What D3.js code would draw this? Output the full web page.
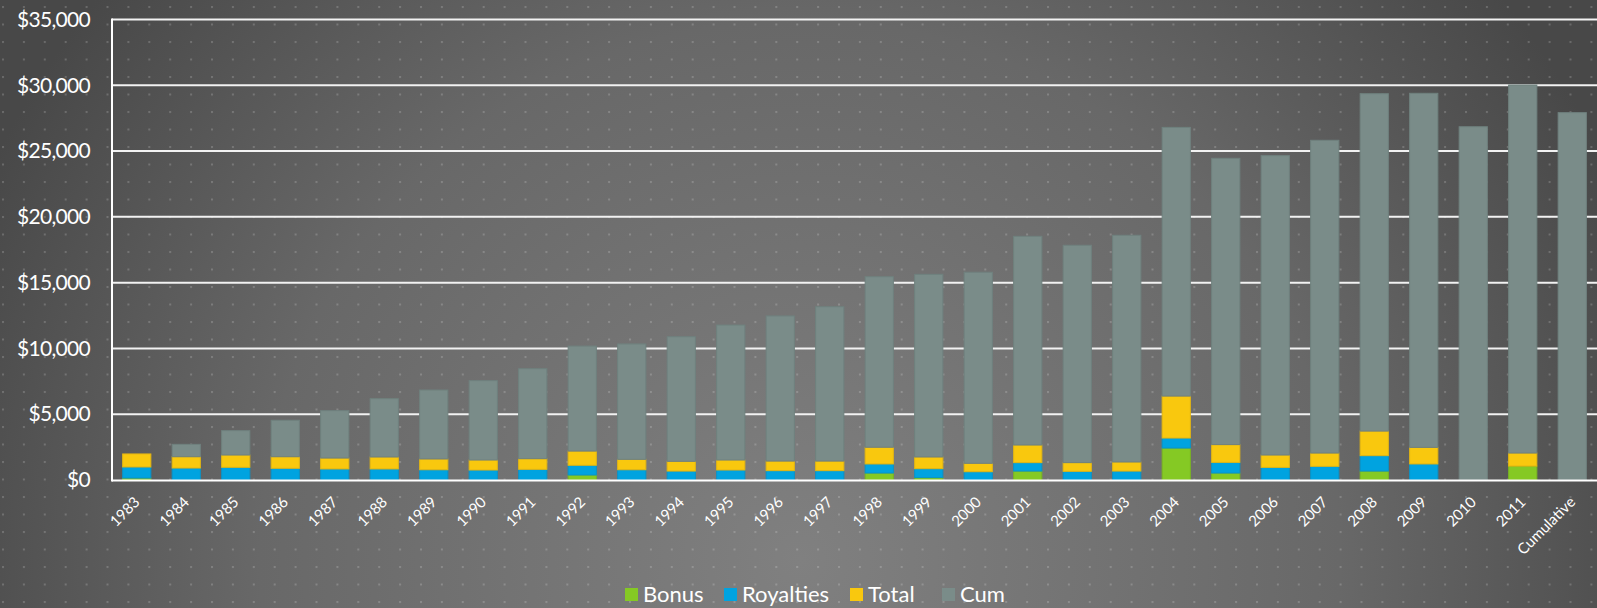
<!DOCTYPE html>
<html>
<head>
<meta charset="utf-8">
<script src="https://cdn.jsdelivr.net/npm/d3@7"></script>
<style>
  html, body { margin: 0; padding: 0; background: #5a5a5a; }
  svg { display: block; }
  text { font-family: Lato, "Open Sans", sans-serif; fill: #ffffff; }
</style>
</head>
<body>
<svg id="chart" width="1597" height="608"></svg>
<script>
const categories = ["1983","1984","1985","1986","1987","1988","1989","1990","1991","1992",
  "1993","1994","1995","1996","1997","1998","1999","2000","2001","2002",
  "2003","2004","2005","2006","2007","2008","2009","2010","2011","Cumulative"];
const seriesNames = ["Bonus", "Royalties", "Total", "Cum"];
const bonus = [150,0,0,0,0,0,0,0,0,380, 0,0,0,0,0,530,180,0,680,0, 0,2430,530,0,0,680,0,0,1060,0];
const royalties = [840,910,965,890,840,840,780,760,810,740, 780,680,760,710,710,690,680,630,640,660, 680,760,810,960,1040,1170,1220,0,0,0];
const total = [990,860,935,880,830,910,820,760,810,1080, 790,740,760,730,730,1270,890,640,1340,660, 690,3190,1350,940,1010,1870,1260,0,990,0];
const cum = [0,940,1850,2770,3600,4430,5240,6030,6840,7980, 8770,9470,10260,11030,11730,12960,13880,14520,15860,16520, 17230,20420,21760,22750,23770,25640,26910,26850,27970,27920];
const yTicks = [0,5000,10000,15000,20000,25000,30000,35000];
const colors = ["#85c924", "#00a3e0", "#f9c80e", "#7a8c89"];
const strokes = ["#7ab522", "#0a93c8", "#e4b612", "#6f817e"];

const W = 1597, H = 608;
const svg = d3.select("#chart");
const defs = svg.append("defs");

const grad = defs.append("radialGradient").attr("id", "bg")
  .attr("gradientUnits", "userSpaceOnUse")
  .attr("cx", 800).attr("cy", 560).attr("r", 900);
grad.append("stop").attr("offset", "0%").attr("stop-color", "#808080");
grad.append("stop").attr("offset", "60%").attr("stop-color", "#686868");
grad.append("stop").attr("offset", "100%").attr("stop-color", "#484848");

const pat = defs.append("pattern").attr("id", "dots")
  .attr("patternUnits", "userSpaceOnUse")
  .attr("x", 2).attr("y", 6).attr("width", 20.9).attr("height", 17.5);
pat.append("rect").attr("x", 0).attr("y", 0).attr("width", 2).attr("height", 2)
  .attr("fill", "rgba(255,255,255,0.18)");

svg.append("rect").attr("width", W).attr("height", H).attr("fill", "url(#bg)");
svg.append("rect").attr("width", W).attr("height", H).attr("fill", "url(#dots)");

const plotL = 112, plotR = 1597, plotT = 19.5, plotB = 480;
const x = d3.scaleBand().domain(categories).range([plotL, plotR])
  .paddingInner(0.43).paddingOuter(0.215);
const y = d3.scaleLinear().domain([0, 35000]).range([plotB, plotT]);

// gridlines
const grid = svg.append("g");
grid.selectAll("line").data(yTicks.filter(d => d > 0)).join("line")
  .attr("x1", plotL).attr("x2", plotR)
  .attr("y1", d => y(d)).attr("y2", d => y(d))
  .attr("stroke", "#f2f2f2").attr("stroke-width", 2);

// y axis labels
const yAxis = d3.axisLeft(y).tickValues(yTicks)
  .tickFormat(d => "$" + d3.format(",")(d)).tickSize(0).tickPadding(22);
const ya = svg.append("g").attr("transform", `translate(${plotL},0)`).call(yAxis);
ya.select(".domain").remove();
ya.selectAll("text").attr("font-size", 21).attr("fill", "#fff")
  .attr("letter-spacing", -0.7)
  .style("font-family", "Lato, 'Open Sans', sans-serif");

// stacked bars
const rows = categories.map((c, i) => ({cat: c, Bonus: bonus[i], Royalties: royalties[i], Total: total[i], Cum: cum[i]}));
const stack = d3.stack().keys(seriesNames)(rows);
svg.append("g").selectAll("g").data(stack).join("g")
  .attr("fill", (d, i) => colors[i]).attr("stroke", (d, i) => strokes[i])
  .selectAll("rect").data(d => d.filter(s => s[1] - s[0] > 0)).join("rect")
  .attr("x", d => x(d.data.cat)).attr("width", x.bandwidth())
  .attr("y", d => y(d[1])).attr("height", d => y(d[0]) - y(d[1]))
  .attr("stroke-width", 1);

// axes lines
svg.append("line").attr("x1", plotL).attr("x2", plotR).attr("y1", plotB + 0.5).attr("y2", plotB + 0.5)
  .attr("stroke", "#ffffff").attr("stroke-width", 2);
svg.append("line").attr("x1", plotL).attr("x2", plotL).attr("y1", plotT - 1).attr("y2", plotB + 1.5)
  .attr("stroke", "#ffffff").attr("stroke-width", 2);

// x labels
const xAxis = d3.axisBottom(x).tickSize(0).tickPadding(0);
const xa = svg.append("g").attr("transform", `translate(0,${plotB})`).call(xAxis);
xa.select(".domain").remove();
xa.selectAll("text")
  .attr("font-size", 15).attr("fill", "#fff").attr("text-anchor", "end")
  .attr("dy", 0).attr("y", 0)
  .attr("transform", "translate(4,23) rotate(-45)")
  .style("font-family", "Lato, 'Open Sans', sans-serif");

// legend
const legendX = [625, 724, 850, 942];
const lg = svg.append("g");
seriesNames.forEach((n, i) => {
  lg.append("rect").attr("x", legendX[i]).attr("y", 588).attr("width", 13).attr("height", 13).attr("fill", colors[i]);
  lg.append("text").attr("x", legendX[i] + 18).attr("y", 602).attr("font-size", 22).text(n);
});
</script>
</body>
</html>
